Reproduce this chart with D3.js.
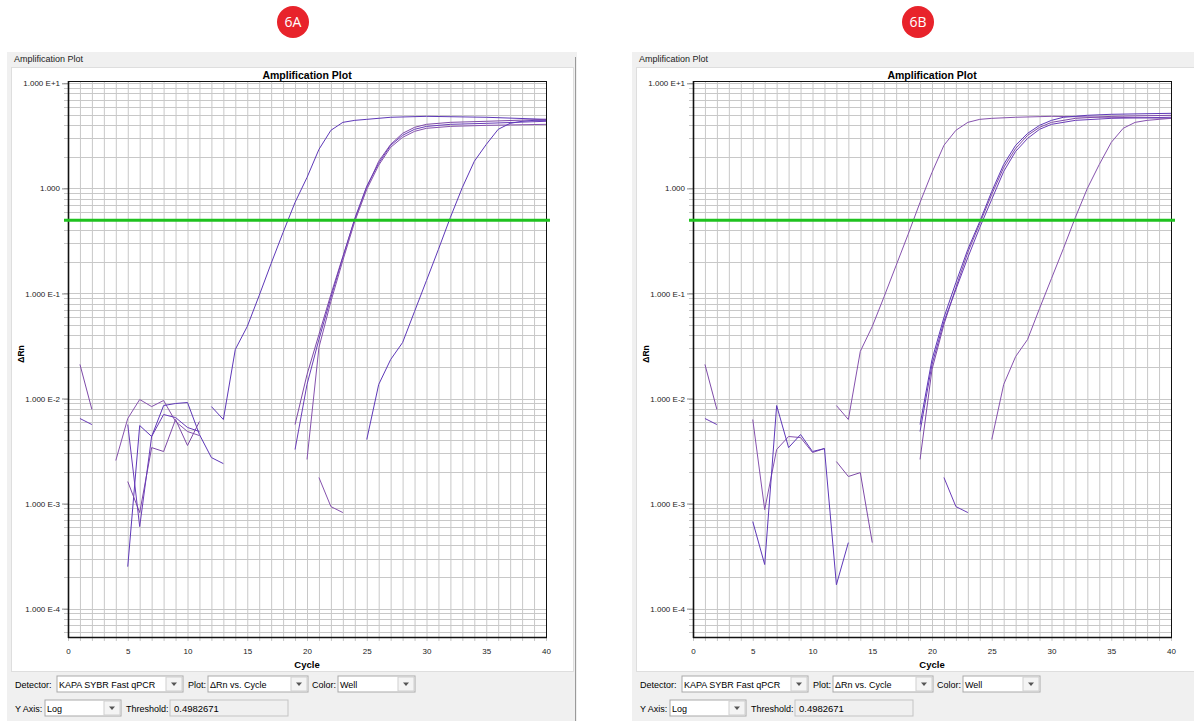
<!DOCTYPE html>
<html>
<head>
<meta charset="utf-8">
<script src="https://cdn.jsdelivr.net/npm/d3@7"></script>
<style>
  html, body { margin: 0; padding: 0; background: #fff; }
  svg { display: block; font-family: "Liberation Sans", Arial, sans-serif; }
</style>
</head>
<body>
<svg id="chart" width="1194" height="721"></svg>
<script>
// Amplification plots (ΔRn vs cycle, log scale), two runs side by side
// values: [cycle, ΔRn]

const xTicks = [0, 5, 10, 15, 20, 25, 30, 35, 40];
const yTicks = [1e-4, 1e-3, 1e-2, 1e-1, 1, 10];
const yTickLabels = ['1.000 E-4', '1.000 E-3', '1.000 E-2', '1.000 E-1', '1.000', '1.000 E+1'];
const threshold = 0.4982671;

// --- run 6A ---
const aEarly = [[12,0.00838],[13,0.00631],[14,0.0293],[15,0.0485],[16,0.0957],[17,0.193],[18,0.381],[19,0.736],[20,1.27],[21,2.35],[22,3.57],[23,4.25],[24,4.44],[25,4.54],[27,4.75],[30,4.85],[35,4.75],[40,4.54]];
const aMid1 = [[19,0.00565],[20,0.0169],[21,0.0407],[22,0.0978],[23,0.225],[24,0.507],[25,1.02],[26,1.81],[27,2.62],[28,3.34],[29,3.81],[30,4.07],[32,4.25],[35,4.35],[40,4.54]];
const aMid2 = [[19,0.00327],[20,0.0136],[21,0.0365],[22,0.0916],[23,0.220],[24,0.518],[25,1.05],[26,1.73],[27,2.57],[28,3.20],[29,3.65],[30,3.89],[32,4.07],[35,4.16],[40,4.35]];
const aMid3 = [[20,0.00263],[21,0.0306],[22,0.0839],[23,0.206],[24,0.485],[25,0.978],[26,1.66],[27,2.46],[28,3.06],[29,3.49],[30,3.73],[32,3.89],[35,3.98],[40,4.07]];
const aLate = [[25,0.00407],[26,0.0136],[27,0.0235],[28,0.0341],[29,0.0674],[30,0.133],[31,0.263],[32,0.530],[33,1.02],[34,1.81],[35,2.62],[36,3.65],[37,4.16],[38,4.35],[39,4.44],[40,4.44]];
const aNoise1 = [[1,0.0211],[2,0.00786]];
const aNoise2 = [[1,0.00645],[2,0.00565]];
const aNoise3 = [[4,0.00257],[5,0.00645],[6,0.00978],[7,0.00838],[8,0.00957],[9,0.00604],[10,0.00485],[11,0.00444]];
const aNoise4 = [[5,0.000251],[6,0.00553],[7,0.00435],[8,0.00857],[9,0.00896],[10,0.00916],[11,0.00454],[12,0.00274],[13,0.00240]];
const aNoise5 = [[5,0.00162],[6,0.000821],[7,0.00341],[8,0.00313],[9,0.00631],[10,0.00357],[11,0.00604]];
const aNoise6 = [[5,0.00565],[6,0.000604],[7,0.00435],[8,0.00704],[9,0.00659],[10,0.00530],[11,0.00485]];
const aNoise7 = [[21,0.00177],[22,0.000936],[23,0.000821]];

// --- run 6B ---
const bEarly = [[12,0.00857],[13,0.00631],[14,0.0281],[15,0.0485],[16,0.0936],[17,0.185],[18,0.365],[19,0.736],[20,1.42],[21,2.57],[22,3.57],[23,4.25],[24,4.54],[25,4.64],[27,4.75],[30,4.85],[35,4.75],[40,4.64]];
const bMid1 = [[19,0.00565],[20,0.0235],[21,0.0591],[22,0.127],[23,0.263],[24,0.485],[25,0.936],[26,1.69],[27,2.57],[28,3.34],[29,3.98],[30,4.44],[31,4.75],[33,4.96],[35,5.07],[40,5.18]];
const bMid2 = [[19,0.00263],[20,0.0189],[21,0.0507],[22,0.114],[23,0.246],[24,0.464],[25,0.877],[26,1.58],[27,2.40],[28,3.20],[29,3.81],[30,4.25],[32,4.64],[35,4.85],[40,4.96]];
const bMid3 = [[19,0.00485],[20,0.0211],[21,0.0541],[22,0.109],[23,0.220],[24,0.425],[25,0.786],[26,1.45],[27,2.25],[28,2.99],[29,3.65],[30,4.07],[32,4.44],[35,4.64],[40,4.75]];
const bLate = [[25,0.00407],[26,0.0136],[27,0.0251],[28,0.0365],[29,0.0720],[30,0.139],[31,0.268],[32,0.530],[33,1.00],[34,1.69],[35,2.74],[36,3.73],[37,4.25],[38,4.44],[39,4.54],[40,4.64]];
const bNoise1 = [[1,0.0211],[2,0.00786]];
const bNoise2 = [[1,0.00645],[2,0.00565]];
const bNoise3 = [[5,0.00631],[6,0.000877],[7,0.00327],[8,0.00435],[9,0.00425],[10,0.00306],[11,0.00334]];
const bNoise4 = [[5,0.000674],[6,0.000263],[7,0.00857],[8,0.00341],[9,0.00454],[10,0.00313],[11,0.00334],[12,0.000169],[13,0.000425]];
const bNoise5 = [[12,0.00251],[13,0.00181],[14,0.00197],[15,0.000425]];
const bNoise6 = [[21,0.00177],[22,0.000936],[23,0.000821]];

const seriesA = [aNoise1, aNoise2, aNoise3, aNoise4, aNoise5, aNoise6, aNoise7, aEarly, aMid1, aMid2, aMid3, aLate];
const seriesB = [bNoise1, bNoise2, bNoise3, bNoise4, bNoise5, bNoise6, bEarly, bMid1, bMid2, bMid3, bLate];
const lineColors = ['#7e4aa8', '#6a3cb8', '#8652ae', '#5e38b8'];

const svg = d3.select('#chart');

// combobox style control
function combo(g, x, y, w, label) {
  g.append('rect').attr('x', x).attr('y', y).attr('width', w).attr('height', 16)
    .attr('fill', '#fff').attr('stroke', '#a9a9a9');
  g.append('text').attr('x', x + 2).attr('y', y + 12).attr('font-size', 9).attr('fill', '#000').text(label);
  g.append('rect').attr('x', x + w - 17).attr('y', y + 1).attr('width', 16).attr('height', 14)
    .attr('fill', '#f4f4f4').attr('stroke', '#d0d0d0');
  const cx = x + w - 9, cy = y + 8;
  g.append('path').attr('d', `M${cx - 3},${cy - 1.5}L${cx + 3},${cy - 1.5}L${cx},${cy + 2}Z`).attr('fill', '#555');
}

function drawPanel(ox, badge, series) {
  const g = svg.append('g').attr('transform', `translate(${ox},0)`);

  // badge
  g.append('circle').attr('cx', 286).attr('cy', 22).attr('r', 16).attr('fill', '#e8232b');
  g.append('text').attr('x', 286).attr('y', 27).attr('text-anchor', 'middle')
    .attr('font-family', 'Open Sans, sans-serif').attr('font-size', 14).attr('fill', '#fff').text(badge);

  // window frame
  g.append('rect').attr('x', 0).attr('y', 52).attr('width', 570).attr('height', 669).attr('fill', '#f0f0f0');
  g.append('text').attr('x', 7).attr('y', 62).attr('font-size', 9).attr('fill', '#222').text('Amplification Plot');
  g.append('rect').attr('x', 4.5).attr('y', 67.5).attr('width', 562).attr('height', 604).attr('fill', '#fff').attr('stroke', '#dedede');
  g.append('line').attr('x1', 568.5).attr('x2', 568.5).attr('y1', 57).attr('y2', 721).attr('stroke', '#9a9a9a');

  const left = 61, top = 81, w = 478, h = 556;
  const x = d3.scaleLinear().domain([0, 40]).range([left, left + w]);
  const y = d3.scaleLog().domain([Math.pow(10, -4.27), Math.pow(10, 1.022)]).range([top + h, top]);

  // grid: every cycle, every log minor
  const vCycles = d3.range(0, 41);
  g.append('g').selectAll('line').data(vCycles).join('line')
    .attr('x1', d => x(d) + 0.5).attr('x2', d => x(d) + 0.5)
    .attr('y1', top).attr('y2', top + h + 4)
    .attr('stroke', '#c8c8c8').attr('stroke-width', 1);
  const minor = [];
  for (let e = -5; e <= 1; e++) for (let m = 1; m <= 9; m++) {
    const v = m * Math.pow(10, e);
    if (v >= y.domain()[0] && v <= y.domain()[1]) minor.push(v);
  }
  g.append('g').selectAll('line').data(minor).join('line')
    .attr('x1', left - 4).attr('x2', left + w)
    .attr('y1', d => Math.round(y(d)) + 0.5).attr('y2', d => Math.round(y(d)) + 0.5)
    .attr('stroke', '#c8c8c8').attr('stroke-width', 1);

  // axes
  const yAxis = d3.axisLeft(y).tickValues(yTicks).tickSize(6).tickPadding(2)
    .tickFormat((d, i) => yTickLabels[i]);
  const ya = g.append('g').attr('transform', `translate(${left},0)`).call(yAxis);
  ya.select('.domain').remove();
  ya.selectAll('line').attr('stroke', '#888');
  ya.selectAll('text').attr('font-size', 8).attr('fill', '#222').attr('font-family', 'Liberation Sans, Arial, sans-serif');

  const xAxis = d3.axisBottom(x).tickValues(xTicks).tickSize(0).tickPadding(11).tickFormat(d3.format('d'));
  const xa = g.append('g').attr('transform', `translate(0,${top + h})`).call(xAxis);
  xa.select('.domain').remove();
  xa.selectAll('text').attr('font-size', 8).attr('fill', '#222').attr('font-family', 'Liberation Sans, Arial, sans-serif');

  // frame
  g.append('rect').attr('x', left + 0.5).attr('y', top + 0.5).attr('width', w).attr('height', h)
    .attr('fill', 'none').attr('stroke', '#111').attr('stroke-width', 1);
  g.append('line').attr('x1', left + 0.5).attr('x2', left + 0.5).attr('y1', top).attr('y2', top + h + 1)
    .attr('stroke', '#111').attr('stroke-width', 1.6);
  g.append('line').attr('x1', left).attr('x2', left + w + 1).attr('y1', top + h + 0.5).attr('y2', top + h + 0.5)
    .attr('stroke', '#111').attr('stroke-width', 1.6);

  // titles
  g.append('text').attr('x', left + w / 2).attr('y', 79).attr('text-anchor', 'middle')
    .attr('font-size', 10.5).attr('font-weight', 'bold').text('Amplification Plot');
  g.append('text').attr('x', left + w / 2).attr('y', 668).attr('text-anchor', 'middle')
    .attr('font-size', 9.5).attr('font-weight', 'bold').text('Cycle');
  g.append('text').attr('transform', `translate(17,${top + h / 2 - 5}) rotate(-90)`).attr('text-anchor', 'middle')
    .attr('font-size', 8.5).attr('font-weight', 'bold').text('ΔRn');

  // curves
  const line = d3.line().x(d => x(d[0])).y(d => y(d[1]));
  g.append('g').selectAll('path').data(series).join('path')
    .attr('d', line).attr('fill', 'none')
    .attr('stroke', (d, i) => lineColors[i % lineColors.length]).attr('stroke-width', 1);

  // threshold
  g.append('line').attr('x1', left - 4).attr('x2', left + w + 4)
    .attr('y1', y(threshold)).attr('y2', y(threshold))
    .attr('stroke', '#1fc21f').attr('stroke-width', 3);

  // controls
  g.append('rect').attr('x', 0).attr('y', 672).attr('width', 568).attr('height', 49).attr('fill', '#f0f0f0');
  const lbl = (tx, ty, t) => g.append('text').attr('x', tx).attr('y', ty).attr('font-size', 9).attr('fill', '#000').text(t);
  lbl(8, 688, 'Detector:');
  combo(g, 50, 676, 126, 'KAPA SYBR Fast qPCR');
  lbl(181, 688, 'Plot:');
  combo(g, 201, 676, 100, 'ΔRn vs. Cycle');
  lbl(305, 688, 'Color:');
  combo(g, 331, 676, 77, 'Well');
  lbl(8, 712, 'Y Axis:');
  combo(g, 38, 700, 76, 'Log');
  lbl(119, 712, 'Threshold:');
  g.append('rect').attr('x', 163).attr('y', 700).attr('width', 118).attr('height', 16)
    .attr('fill', '#f0f0f0').attr('stroke', '#c4c4c4');
  g.append('text').attr('x', 167).attr('y', 712).attr('font-size', 9.5).text(threshold.toFixed(7));
}

drawPanel(7, '6A', seriesA);
drawPanel(632, '6B', seriesB);
</script>
</body>
</html>
